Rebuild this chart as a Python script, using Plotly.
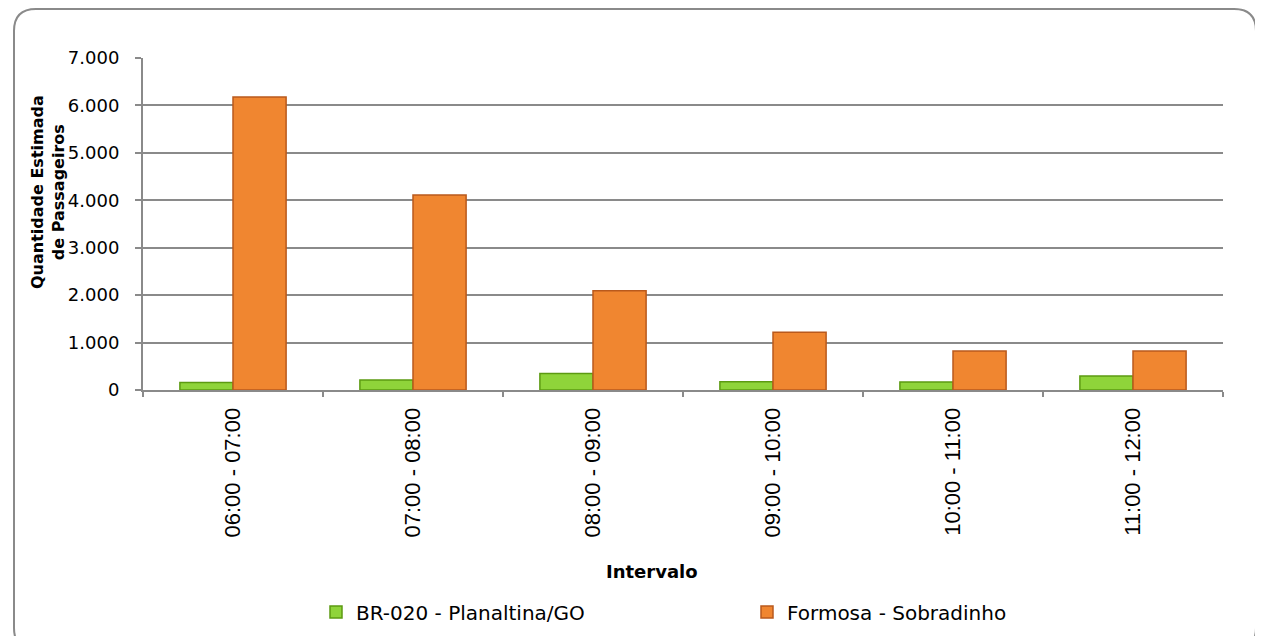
import plotly.graph_objects as go

categories = ["06:00 - 07:00", "07:00 - 08:00", "08:00 - 09:00", "09:00 - 10:00", "10:00 - 11:00", "11:00 - 12:00"]
series_names = ["BR-020 - Planaltina/GO", "Formosa - Sobradinho"]
br020 = [160, 210, 350, 175, 170, 295]
formosa = [6180, 4110, 2090, 1220, 820, 820]
y_ticks = [0, 1000, 2000, 3000, 4000, 5000, 6000, 7000]
y_ticklabels = ["0", "1.000", "2.000", "3.000", "4.000", "5.000", "6.000", "7.000"]

OFF = 8  # page body margin
W, H = 1263 - OFF, 636 - OFF
L, R, T, B = 143, 1223, 58, 390  # screen coordinates of plot area


def px(x):
    return (x - L) / (R - L)


def py(y):
    return (B - y) / (B - T)


FONT = "DejaVu Sans, Century Gothic, sans-serif"

fig = go.Figure()
fig.add_trace(go.Bar(
    x=categories, y=br020, name=series_names[0],
    marker=dict(color="#8fd43a", line=dict(color="#5c9a12", width=1.5)),
))
fig.add_trace(go.Bar(
    x=categories, y=formosa, name=series_names[1],
    marker=dict(color="#f08630", line=dict(color="#b9591c", width=1.5)),
))

# rounded frame (screen coordinates)
r = 22
l0, t0, r0, b0 = 14, 9, 1256, 650
frame = (f"M {px(l0)},{py(t0 + r)} Q {px(l0)},{py(t0)} {px(l0 + r)},{py(t0)} "
         f"L {px(r0 - r)},{py(t0)} Q {px(r0)},{py(t0)} {px(r0)},{py(t0 + r)} "
         f"L {px(r0)},{py(b0 - r)} Q {px(r0)},{py(b0)} {px(r0 - r)},{py(b0)} "
         f"L {px(l0 + r)},{py(b0)} Q {px(l0)},{py(b0)} {px(l0)},{py(b0 - r)} Z")
shapes = [
    dict(type="path", xref="paper", yref="paper", path=frame,
         line=dict(color="#8a8a8a", width=2), layer="below"),
]

annotations = [
    dict(text="<b>Quantidade Estimada<br>de Passageiros</b>", textangle=-90,
         xref="paper", yref="paper", x=px(48), y=py(192), xanchor="center", yanchor="middle",
         showarrow=False, font=dict(family=FONT, size=16, color="#000000")),
    dict(text="<b>Intervalo</b>", xref="paper", yref="paper", x=px(652), y=py(571),
         xanchor="center", yanchor="middle", showarrow=False,
         font=dict(family=FONT, size=18, color="#000000")),
]

fig.update_layout(
    width=W, height=H,
    margin=dict(l=L - OFF, r=W - (R - OFF), t=T - OFF, b=H - (B - OFF), autoexpand=False),
    paper_bgcolor="white", plot_bgcolor="white",
    barmode="group", bargap=0.41, bargroupgap=0,
    separators=",.",
    font=dict(family=FONT, size=17, color="#000000"),
    shapes=shapes, annotations=annotations,
    legend=dict(orientation="h", x=px(316), y=py(612), xanchor="left", yanchor="middle",
                entrywidth=386, entrywidthmode="pixels",
                font=dict(family=FONT, size=20, color="#000000"),
                bgcolor="rgba(0,0,0,0)"),
    xaxis=dict(type="category", showline=True, linecolor="#8a8a8a", linewidth=2,
               ticks="outside", tickson="boundaries", ticklen=5, tickcolor="#8a8a8a", tickwidth=2,
               tickangle=-90, showgrid=False, automargin=False, ticklabelstandoff=7,
               tickfont=dict(family="Liberation Sans, Arial, sans-serif", size=22, color="#000000")),
    yaxis=dict(range=[0, 7000], tickvals=y_ticks, ticktext=y_ticklabels,
               showline=True, linecolor="#8a8a8a", linewidth=2, automargin=False,
               ticks="outside", ticklen=6, tickcolor="#8a8a8a", tickwidth=2, ticklabelstandoff=12,
               showgrid=True, gridcolor="#8a8a8a", gridwidth=2, zeroline=False,
               tickfont=dict(family=FONT, size=18, color="#000000")),
)

fig.write_html("out.html")
